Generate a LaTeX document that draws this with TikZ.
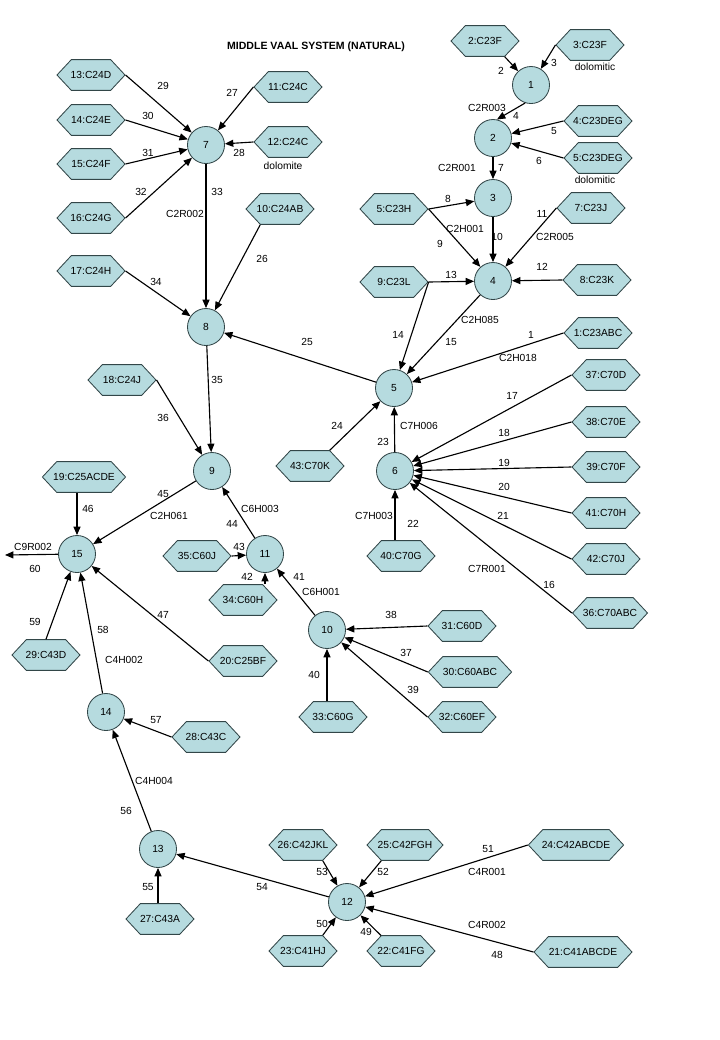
\documentclass[tikz,border=0pt]{standalone}
\usepackage{fontspec}
\setmainfont{Liberation Sans}
\usetikzlibrary{arrows.meta, shapes.symbols}
\definecolor{hexfill}{RGB}{182,219,223}
\definecolor{hexdraw}{RGB}{50,70,72}

\begin{document}
\begin{tikzpicture}[x=0.025cm, y=-0.025cm,
  font=\fontsize{7.3}{8}\selectfont,
  hexnode/.style={signal, signal to=east and west, signal pointer angle=94,
    draw=hexdraw, fill=hexfill, line width=0.6pt, minimum width=1.7cm,
    minimum height=0.77cm, inner xsep=-5pt, inner ysep=1pt},
  basin/.style={circle, draw=hexdraw, fill=hexfill, line width=0.6pt,
    minimum size=0.925cm, inner sep=0pt},
  flow/.style={-{Triangle[length=6pt,width=5pt]}, line width=0.8pt},
  lbl/.style={inner sep=0pt},
]
  \useasboundingbox (0,0) rectangle (720,1040);
  \node[font=\fontsize{7.5}{9}\bfseries] (title) at (316,47) {MIDDLE VAAL SYSTEM (NATURAL)};

  % Basins
  \node[basin] (n1)  at (531,85)  {1};
  \node[basin] (n2)  at (493,138) {2};
  \node[basin] (n3)  at (493,198) {3};
  \node[basin] (n4)  at (493,281) {4};
  \node[basin] (n5)  at (394,388) {5};
  \node[basin] (n6)  at (395,471) {6};
  \node[basin] (n7)  at (206,145) {7};
  \node[basin] (n8)  at (206,327) {8};
  \node[basin] (n9)  at (212,471) {9};
  \node[basin] (n10) at (327,630) {10};
  \node[basin] (n11) at (265,554) {11};
  \node[basin] (n12) at (347,902) {12};
  \node[basin] (n13) at (158,849) {13};
  \node[basin] (n14) at (106,712) {14};
  \node[basin] (n15) at (77,554)  {15};
  \coordinate (out) at (5,555);

  % Catchments
  \node[hexnode] (c23f)     at (485,41)  {2:C23F};
  \node[hexnode] (c23fd)    at (590,45)  {3:C23F};
  \node[hexnode] (c23deg)   at (598,121) {4:C23DEG};
  \node[hexnode] (c23degd)  at (598,158) {5:C23DEG};
  \node[hexnode] (c23h)     at (394,209) {5:C23H};
  \node[hexnode] (c23j)     at (591,208) {7:C23J};
  \node[hexnode] (c23l)     at (394,282) {9:C23L};
  \node[hexnode] (c23k)     at (597,280) {8:C23K};
  \node[hexnode] (c23abc)   at (598,333) {1:C23ABC};
  \node[hexnode] (c70d)     at (606,375) {37:C70D};
  \node[hexnode] (c70e)     at (606,422) {38:C70E};
  \node[hexnode] (c70f)     at (606,467) {39:C70F};
  \node[hexnode] (c70h)     at (606,513) {41:C70H};
  \node[hexnode] (c70j)     at (606,559) {42:C70J};
  \node[hexnode, minimum width=1.875cm] (c70abc) at (610,613) {36:C70ABC};
  \node[hexnode] (c70k)     at (310,466) {43:C70K};
  \node[hexnode] (c70g)     at (401,556) {40:C70G};
  \node[hexnode] (c60d)     at (462,626) {31:C60D};
  \node[hexnode, minimum width=2.08cm] (c60abc) at (470,672) {30:C60ABC};
  \node[hexnode] (c60ef)    at (462,717) {32:C60EF};
  \node[hexnode] (c60g)     at (333,717) {33:C60G};
  \node[hexnode] (c60j)     at (197,556) {35:C60J};
  \node[hexnode] (c60h)     at (243,600) {34:C60H};
  \node[hexnode] (c25bf)    at (243,661) {20:C25BF};
  \node[hexnode] (c43d)     at (46,655)  {29:C43D};
  \node[hexnode] (c43c)     at (206,737) {28:C43C};
  \node[hexnode, minimum width=2.08cm] (c25acde) at (84,477) {19:C25ACDE};
  \node[hexnode] (c24j)     at (122,380) {18:C24J};
  \node[hexnode] (c24h)     at (91,271)  {17:C24H};
  \node[hexnode] (c24d)     at (91,75)   {13:C24D};
  \node[hexnode] (c24e)     at (91,120)  {14:C24E};
  \node[hexnode] (c24f)     at (91,164)  {15:C24F};
  \node[hexnode] (c24g)     at (91,218)  {16:C24G};
  \node[hexnode] (c24c)     at (288,87)  {11:C24C};
  \node[hexnode] (c24cd)    at (288,142) {12:C24C};
  \node[hexnode] (c24ab)    at (280,209) {10:C24AB};
  \node[hexnode] (c42jkl)   at (303,845) {26:C42JKL};
  \node[hexnode, minimum width=1.9cm] (c42fgh) at (405,845) {25:C42FGH};
  \node[hexnode, minimum width=2.38cm] (c42abcde) at (576,845) {24:C42ABCDE};
  \node[hexnode] (c41hj)    at (303,951) {23:C41HJ};
  \node[hexnode] (c41fg)    at (401,951) {22:C41FG};
  \node[hexnode, minimum width=2.45cm] (c41abcde) at (583,952) {21:C41ABCDE};
  \node[hexnode] (c43a)     at (160,919) {27:C43A};

  % Notes under catchments
  \node[lbl] (dol3)  at (595,67)  {dolomitic};
  \node[lbl] (dol5)  at (595,180) {dolomitic};
  \node[lbl] (dol12) at (283,166) {dolomite};

  % Flows
  \draw[flow] (c23f.south east) -- (n1);
  \draw[flow] (c23fd.west) -- (n1);
  \draw[flow] (n1.252) -- (n2.78);
  \draw[flow] (c23deg.west) -- (n2);
  \draw[flow] (c23degd.west) -- (n2);
  \draw[flow] (n2) -- (n3);
  \draw[flow] (c23h.east) -- (n3);
  \draw[flow] (c23h.east) -- (n4);
  \draw[flow] (n3) -- (n4);
  \draw[flow] (c23j.west) -- (n4);
  \draw[flow] (c23k.west) -- (n4);
  \draw[flow] (c23l.east) -- (n4);
  \draw[flow] (c23l.east) -- (n5);
  \draw[flow] (n4) -- (n5);
  \draw[flow] (c23abc.west) -- (n5);
  \draw[flow] (n6) -- (n5);
  \draw[flow] (c70k.north east) -- (n5);
  \draw[flow] (n5) -- (n8);
  \draw[flow] (c70d.west) -- (n6);
  \draw[flow] (c70e.west) -- (n6);
  \draw[flow] (c70f.west) -- (n6);
  \draw[flow] (c70h.west) -- (n6);
  \draw[flow] (c70j.west) -- (n6);
  \draw[flow] (c70abc.west) -- (n6);
  \draw[flow] (n6 |- c70g.north) -- (n6);
  \draw[flow] (c24d.east) -- (n7);
  \draw[flow] (c24e.east) -- (n7);
  \draw[flow] (c24f.east) -- (n7);
  \draw[flow] (c24g.east) -- (n7);
  \draw[flow] (c24c.west) -- (n7);
  \draw[flow] (c24cd.west) -- (n7);
  \draw[flow] (n7) -- (n8);
  \draw[flow] (c24ab.south west) -- (n8);
  \draw[flow] (c24h.east) -- (n8);
  \draw[flow] (n8) -- (n9);
  \draw[flow] (c24j.east) -- (n9);
  \draw[flow] (n11) -- (n9);
  \draw[flow] (n9) -- (n15);
  \draw[flow] (c60j.east) -- (n11);
  \draw[flow] (n11 |- c60h.north) -- (n11);
  \draw[flow] (n10) -- (n11);
  \draw[flow] (c60d.west) -- (n10);
  \draw[flow] (c60abc.west) -- (n10);
  \draw[flow] (c60ef.west) -- (n10);
  \draw[flow] (n10 |- c60g.north) -- (n10);
  \draw[flow] (n15 |- c25acde.south) -- (n15);
  \draw[flow] (c43d.north) -- (n15);
  \draw[flow] (c25bf.west) -- (n15);
  \draw[flow] (n14) -- (n15);
  \draw[flow] (c43c.west) -- (n14);
  \draw[flow] (n13) -- (n14);
  \draw[flow] (n13 |- c43a.north) -- (n13);
  \draw[flow] (n12) -- (n13);
  \draw[flow] (c42jkl.south east) -- (n12);
  \draw[flow] (c42fgh.south west) -- (n12);
  \draw[flow] (c42abcde.west) -- (n12);
  \draw[flow] (c41hj.north east) -- (n12);
  \draw[flow] (c41fg.north west) -- (n12);
  \draw[flow] (c41abcde.west) -- (n12);
  \draw[flow] (n15) -- (out);

  % Flow numbers
  \node[lbl] (l1)  at (531,335) {1};
  \node[lbl] (l2)  at (501,71)  {2};
  \node[lbl] (l3)  at (554,63)  {3};
  \node[lbl] (l4)  at (516,116) {4};
  \node[lbl] (l5)  at (554,131) {5};
  \node[lbl] (l6)  at (539,161) {6};
  \node[lbl] (l7)  at (501,168) {7};
  \node[lbl] (l8)  at (448,199) {8};
  \node[lbl] (l9)  at (440,244) {9};
  \node[lbl] (l10) at (497,237) {10};
  \node[lbl] (l11) at (542,214) {11};
  \node[lbl] (l12) at (542,267) {12};
  \node[lbl] (l13) at (451,275) {13};
  \node[lbl] (l14) at (398,335) {14};
  \node[lbl] (l15) at (451,342) {15};
  \node[lbl] (l16) at (549,585) {16};
  \node[lbl] (l17) at (512,396) {17};
  \node[lbl] (l18) at (504,433) {18};
  \node[lbl] (l19) at (504,463) {19};
  \node[lbl] (l20) at (504,487) {20};
  \node[lbl] (l21) at (503,516) {21};
  \node[lbl] (l22) at (413,524) {22};
  \node[lbl] (l23) at (383,442) {23};
  \node[lbl] (l24) at (337,426) {24};
  \node[lbl] (l25) at (307,342) {25};
  \node[lbl] (l26) at (262,259) {26};
  \node[lbl] (l27) at (232,93)  {27};
  \node[lbl] (l28) at (239,153) {28};
  \node[lbl] (l29) at (163,86)  {29};
  \node[lbl] (l30) at (148,116) {30};
  \node[lbl] (l31) at (148,153) {31};
  \node[lbl] (l32) at (141,192) {32};
  \node[lbl] (l33) at (217,192) {33};
  \node[lbl] (l34) at (156,282) {34};
  \node[lbl] (l35) at (217,380) {35};
  \node[lbl] (l36) at (163,418) {36};
  \node[lbl] (l37) at (406,653) {37};
  \node[lbl] (l38) at (391,615) {38};
  \node[lbl] (l39) at (413,690) {39};
  \node[lbl] (l40) at (314,675) {40};
  \node[lbl] (l41) at (299,577) {41};
  \node[lbl] (l42) at (247,577) {42};
  \node[lbl] (l43) at (239,547) {43};
  \node[lbl] (l44) at (232,524) {44};
  \node[lbl] (l45) at (163,494) {45};
  \node[lbl] (l46) at (88,509)  {46};
  \node[lbl] (l47) at (163,615) {47};
  \node[lbl] (l48) at (497,955) {48};
  \node[lbl] (l49) at (366,932) {49};
  \node[lbl] (l50) at (322,924) {50};
  \node[lbl] (l51) at (488,849) {51};
  \node[lbl] (l52) at (383,872) {52};
  \node[lbl] (l53) at (322,872) {53};
  \node[lbl] (l54) at (262,887) {54};
  \node[lbl] (l55) at (148,887) {55};
  \node[lbl] (l56) at (126,811) {56};
  \node[lbl] (l57) at (156,720) {57};
  \node[lbl] (l58) at (103,630) {58};
  \node[lbl] (l59) at (35,622)  {59};
  \node[lbl] (l60) at (35,569)  {60};

  % Reach codes
  \node[lbl] (rC2R003) at (487,108) {C2R003};
  \node[lbl] (rC2R001) at (457,168) {C2R001};
  \node[lbl] (rC2H001) at (465,229) {C2H001};
  \node[lbl] (rC2R005) at (555,237) {C2R005};
  \node[lbl] (rC2H085) at (480,320) {C2H085};
  \node[lbl] (rC2H018) at (518,358) {C2H018};
  \node[lbl] (rC7H006) at (419,426) {C7H006};
  \node[lbl] (rC7H003) at (374,516) {C7H003};
  \node[lbl] (rC7R001) at (487,569) {C7R001};
  \node[lbl] (rC2R002) at (185,214) {C2R002};
  \node[lbl] (rC2H061) at (169,516) {C2H061};
  \node[lbl] (rC6H003) at (260,509) {C6H003};
  \node[lbl] (rC6H001) at (321,592) {C6H001};
  \node[lbl] (rC9R002) at (33,547)  {C9R002};
  \node[lbl] (rC4H002) at (124,660) {C4H002};
  \node[lbl] (rC4H004) at (154,781) {C4H004};
  \node[lbl] (rC4R001) at (487,872) {C4R001};
  \node[lbl] (rC4R002) at (487,925) {C4R002};
\end{tikzpicture}
\end{document}
